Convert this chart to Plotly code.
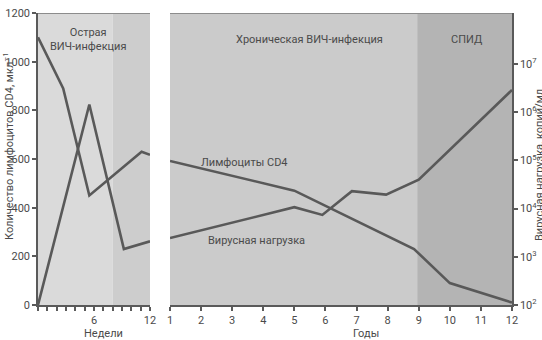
import plotly.graph_objects as go

# Acute phase (weeks)
weeks_cd4 = [0, 2.7, 5.5, 11.1, 12]
cd4_weeks = [1100, 890, 450, 630, 617]
weeks_vl = [0, 5.5, 9.2, 12]
vl_weeks = [1e2, 1.45e6, 1.45e3, 2.1e3]

# Chronic phase and AIDS (years)
years_cd4 = [1, 5, 8.85, 10, 12]
cd4_years = [592, 470, 230, 90, 10]
years_vl = [1, 5, 5.9, 6.85, 7.95, 9, 12]
vl_years = [2.45e3, 1.07e4, 7.4e3, 2.3e4, 1.95e4, 4.0e4, 2.9e6]

week_ticks = list(range(0, 13))
week_labels = ["6" if w == 6 else "12" if w == 12 else "" for w in week_ticks]
year_ticks = list(range(1, 13))
cd4_ticks = [0, 200, 400, 600, 800, 1000, 1200]
vl_ticks = [1e2, 1e3, 1e4, 1e5, 1e6, 1e7]
vl_labels = ["10<sup>2</sup>", "10<sup>3</sup>", "10<sup>4</sup>", "10<sup>5</sup>",
             "10<sup>6</sup>", "10<sup>7</sup>"]

LINE = "#595959"
AX = "#5a5a5a"
TXT = "#4a4a4a"
FONT = "Roboto"

fig = go.Figure()
line_style = dict(color=LINE, width=2.6)
fig.add_trace(go.Scatter(x=weeks_cd4, y=cd4_weeks, mode="lines", line=line_style,
                         xaxis="x", yaxis="y", showlegend=False))
fig.add_trace(go.Scatter(x=weeks_vl, y=vl_weeks, mode="lines", line=line_style,
                         xaxis="x", yaxis="y2", showlegend=False))
fig.add_trace(go.Scatter(x=years_cd4, y=cd4_years, mode="lines", line=line_style,
                         xaxis="x2", yaxis="y3", showlegend=False))
fig.add_trace(go.Scatter(x=years_vl, y=vl_years, mode="lines", line=line_style,
                         xaxis="x2", yaxis="y4", showlegend=False))

W, H = 542, 340
ML, MR, MT, MB = 38, 30, 13, 35
PW, PH = W - ML - MR, H - MT - MB


def px_x(px):
    return (px - ML) / PW


def px_y(py):
    return (H - MB - py) / PH


xdom1 = [0, px_x(150)]
xdom2 = [px_x(170), 1]
tickfont = dict(family=FONT, size=11, color=TXT)
LOG_RANGE = [2, 8.06]

common = dict(ticks="outside", ticklen=4, tickwidth=1.5, tickcolor=AX,
              showline=True, linecolor=AX, linewidth=1.5, showgrid=False,
              zeroline=False, tickfont=tickfont, automargin=False)

fig.update_layout(
    width=W, height=H,
    margin=dict(l=ML, r=MR, t=MT, b=MB, autoexpand=False),
    paper_bgcolor="white", plot_bgcolor="rgba(0,0,0,0)",
    font=dict(family=FONT, size=11, color=TXT),
    xaxis=dict(domain=xdom1, range=[0, 12], tickvals=week_ticks, ticktext=week_labels,
               anchor="y", **common),
    yaxis=dict(domain=[0, 1], range=[0, 1200], tickvals=cd4_ticks, anchor="x", **common),
    yaxis2=dict(type="log", range=LOG_RANGE, overlaying="y", anchor="x",
                visible=False, showgrid=False),
    xaxis2=dict(domain=xdom2, range=[1, 12], tickvals=year_ticks, anchor="y3", **common),
    yaxis3=dict(domain=[0, 1], range=[0, 1200], anchor="x2", visible=False,
                showgrid=False),
    yaxis4=dict(type="log", range=LOG_RANGE, overlaying="y3", anchor="x2",
                side="right", tickvals=vl_ticks, ticktext=vl_labels, **common),
)

# Phase shading
shapes = [
    dict(type="rect", xref="x", yref="y", x0=0, x1=8, y0=0, y1=1200,
         fillcolor="#dadada", line_width=0, layer="below"),
    dict(type="rect", xref="x", yref="y", x0=8, x1=12, y0=0, y1=1200,
         fillcolor="#cdcdcd", line_width=0, layer="below"),
    dict(type="rect", xref="x2", yref="y3", x0=1, x1=8.95, y0=0, y1=1200,
         fillcolor="#cbcbcb", line_width=0, layer="below"),
    dict(type="rect", xref="x2", yref="y3", x0=8.95, x1=12, y0=0, y1=1200,
         fillcolor="#b4b4b4", line_width=0, layer="below"),
    dict(type="line", xref="x", yref="y", x0=0, x1=12, y0=1200, y1=1200,
         line=dict(color="#8c8c8c", width=2)),
    dict(type="line", xref="x2", yref="y3", x0=1, x1=12, y0=1200, y1=1200,
         line=dict(color="#8c8c8c", width=2)),
]
fig.update_layout(shapes=shapes)

txt = dict(family=FONT, size=11, color=TXT)
ann = [
    dict(text="Острая<br>ВИЧ-инфекция", xref="x", yref="y", x=5.4, y=1090,
         showarrow=False, font=txt),
    dict(text="Хроническая ВИЧ-инфекция", xref="x2", yref="y3", x=5.5, y=1092,
         showarrow=False, font=txt),
    dict(text="СПИД", xref="x2", yref="y3", x=10.55, y=1092,
         showarrow=False, font=txt),
    dict(text="Лимфоциты CD4", xref="x2", yref="y3", x=3.38, y=584,
         showarrow=False, font=txt),
    dict(text="Вирусная нагрузка", xref="x2", yref="y3", x=3.77, y=267,
         showarrow=False, font=txt),
    dict(text="Недели", xref="paper", yref="paper", x=px_x(103), y=px_y(333),
         xanchor="center", yanchor="middle", showarrow=False, font=txt),
    dict(text="Годы", xref="paper", yref="paper", x=px_x(366), y=px_y(333),
         xanchor="center", yanchor="middle", showarrow=False, font=txt),
    dict(text="Количество лимфоцитов CD4, мкл<sup>–1</sup>", xref="paper", yref="paper",
         x=px_x(8), y=px_y(146), xanchor="center", yanchor="middle",
         textangle=-90, showarrow=False, font=txt),
    dict(text="Вирусная нагрузка, копий/мл", xref="paper", yref="paper",
         x=px_x(539), y=px_y(165), xanchor="center", yanchor="middle",
         textangle=-90, showarrow=False, font=txt),
]
fig.update_layout(annotations=ann)

fig.write_html("out.html")
